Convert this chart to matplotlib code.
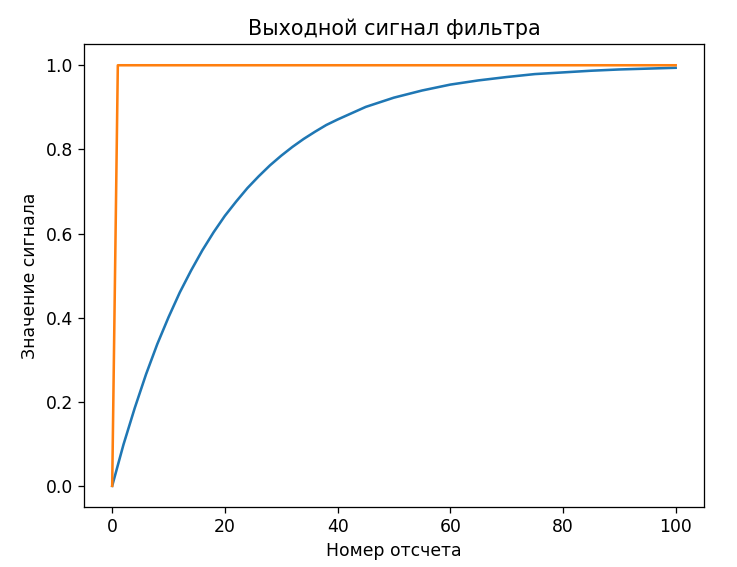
import matplotlib
matplotlib.use("Agg")
import matplotlib.pyplot as plt

# input step (orange) and filter response (blue)
step_n = [0, 1, 100]
step_val = [0.0, 1.0, 1.0]

out_n = [0, 2, 4, 6, 8, 10, 12, 14, 16, 18, 20, 22, 24, 26, 28, 30,
         32, 34, 36, 38, 40, 45, 50, 55, 60, 65, 70, 75, 80, 85, 90, 95, 100]
out_val = [0.0, 0.098, 0.185, 0.265, 0.337, 0.401, 0.460, 0.512, 0.560, 0.603,
           0.642, 0.676, 0.708, 0.736, 0.762, 0.785, 0.806, 0.825, 0.842, 0.858,
           0.871, 0.901, 0.923, 0.940, 0.954, 0.964, 0.972, 0.979, 0.983, 0.987,
           0.990, 0.992, 0.994]

DPI = 115
fig, ax = plt.subplots(figsize=(737 / DPI, 567 / DPI), dpi=DPI)
fig.subplots_adjust(left=0.114, right=0.955, top=0.922, bottom=0.106)

ax.plot(out_n, out_val, color="#1f77b4", linewidth=1.6)
ax.plot(step_n, step_val, color="#ff7f0e", linewidth=1.6)

ax.set_title("Выходной сигнал фильтра", fontsize=13)
ax.set_xlabel("Номер отсчета", fontsize=10.8)
ax.set_ylabel("Значение сигнала", fontsize=10.8)
ax.tick_params(labelsize=10.8)

fig.savefig("out.png", dpi=DPI)
